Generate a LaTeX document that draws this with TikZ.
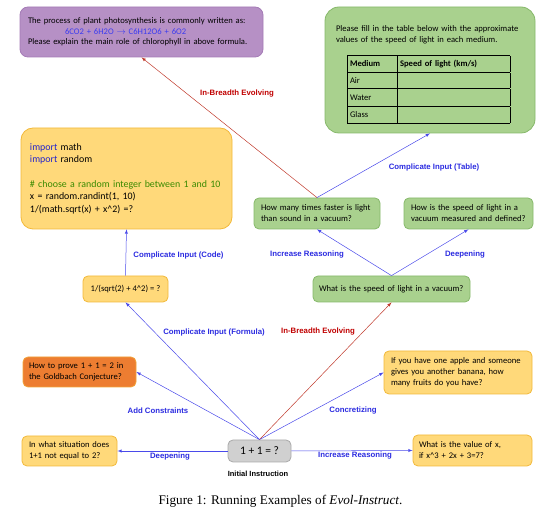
\documentclass[tikz,border=0pt]{standalone}
\usepackage{fontspec}
\setmainfont{Liberation Serif}
\newfontfamily\boxfont{Carlito}
\newfontfamily\lblfont{Liberation Sans}
\usepackage{xcolor}
\usetikzlibrary{arrows}
\tikzset{>=latex}
\definecolor{ybody}{HTML}{FFD97A}
\definecolor{yrim}{HTML}{F2B93A}
\definecolor{gbody}{HTML}{A9D18E}
\definecolor{grim}{HTML}{86B86A}
\definecolor{pbody}{HTML}{B690C5}
\definecolor{prim}{HTML}{A47BB6}
\definecolor{obody}{HTML}{ED7D31}
\definecolor{orim}{HTML}{F2A33A}
\definecolor{kbody}{HTML}{D0D0D0}
\definecolor{krim}{HTML}{A9A9A9}
\definecolor{lblblue}{HTML}{2B2BE0}
\definecolor{lblred}{HTML}{C00000}
\definecolor{lineblue}{HTML}{4A4AEA}
\definecolor{linered}{HTML}{C0392B}
\definecolor{kwblue}{HTML}{2424CC}
\definecolor{cmtgreen}{HTML}{3A8A00}
\definecolor{eqblue}{HTML}{3B3BF0}

\begin{document}
\begin{tikzpicture}[x=1pt, y=-1pt]
    % boxes sit at the pixel centres of the figure, y grows downwards
    \tikzstyle{box}=[rounded corners=5pt, line width=0.8pt, align=left, inner xsep=7pt, inner ysep=2pt, font=\boxfont\fontsize{8.6}{11}\selectfont]
    \tikzstyle{ybox}=[box, fill=ybody, draw=yrim]
    \tikzstyle{gbox}=[box, fill=gbody, draw=grim]
    \tikzstyle{lbl}=[font=\lblfont\bfseries\fontsize{7.8}{9}\selectfont, text=lblblue]
    \tikzstyle{every edge}=[draw=lineblue, ->, line width=0.5pt]
    \useasboundingbox (0,0) rectangle (558,510);

    \node[box, fill=pbody, draw=prim, rounded corners=8pt, inner xsep=8pt, text width=227pt, minimum height=50pt, font=\boxfont\fontsize{8.6}{10.5}\selectfont] (photo) at (141.5,32) {The process of plant photosynthesis is commonly written as:\\ \hspace*{37pt}\textcolor{eqblue}{6CO2 + 6H2O \ensuremath{\rightarrow} C6H12O6 + 6O2}\\ Please explain the main role of chlorophyll in above formula.};
    \node[gbox, rounded corners=14pt, inner xsep=11pt, text width=188pt, minimum height=126pt] (light) at (430,70) {\rule{0pt}{14.5pt}Please fill in the table below with the approximate\\ values of the speed of light in each medium.\\[11pt]
        \hspace*{11pt}{\setlength{\arrayrulewidth}{0.8pt}\setlength{\tabcolsep}{3pt}\begin{tabular}{|p{44pt}|p{107pt}|}
            \hline \rule[-5pt]{0pt}{15.5pt}\textbf{Medium} & \textbf{Speed of light (km/s)}\\
            \hline \rule[-5pt]{0pt}{15.5pt}Air & \\
            \hline \rule[-6pt]{0pt}{17.5pt}Water & \\
            \hline \rule[-5pt]{0pt}{15.5pt}Glass & \\
            \hline
        \end{tabular}}};
    \node[ybox, rounded corners=12pt, inner xsep=9pt, text width=193pt, minimum height=101pt, font=\boxfont\fontsize{9.9}{12.4}\selectfont] (code) at (126.5,178.5) {\textcolor{kwblue}{import} math\\ \textcolor{kwblue}{import} random\\[12.4pt] \textcolor{cmtgreen}{\# choose a random integer between 1 and 10}\\ x = random.randint(1, 10)\\ 1/(math.sqrt(x) + x\textasciicircum 2) =?};
    \node[ybox, align=center, minimum width=85pt, minimum height=26pt] (formula) at (125.5,289) {1/(sqrt(2) + 4\textasciicircum 2) = ?};
    \node[gbox, text width=112pt, minimum height=31pt] (faster) at (317,213.5) {How many times faster is light\\ than sound in a vacuum?};
    \node[gbox, text width=115pt, minimum height=31pt] (measured) at (468.5,213.5) {How is the speed of light in a\\ vacuum measured and defined?};
    \node[gbox, inner xsep=6pt, text width=145pt, minimum height=26pt] (vacuum) at (391.5,289) {What is the speed of light in a vacuum?};
    \node[box, fill=obody, draw=orim, inner xsep=6pt, text width=101pt, minimum height=30pt] (goldbach) at (79.5,372) {How to prove 1 + 1 = 2 in\\ the Goldbach Conjecture?};
    \node[ybox, text width=81pt, minimum height=30pt] (situation) at (69.5,451) {In what situation does\\ 1+1 not equal to 2?};
    \node[box, fill=kbody, draw=krim, align=center, minimum width=63pt, minimum height=22pt, font=\boxfont\fontsize{11.5}{13}\selectfont] (init) at (259.5,451) {1 + 1 = ?};
    \node[ybox, text width=134pt, minimum height=43pt] (apple) at (458,372.5) {If you have one apple and someone\\ gives you another banana, how\\ many fruits do you have?};
    \node[ybox, inner xsep=6pt, text width=107pt, minimum height=31pt] (xvalue) at (472.5,450.5) {What is the value of x,\\ if x\textasciicircum 3 + 2x + 3=7?};

    \node[lbl, text=black, font=\lblfont\bfseries\fontsize{7.5}{9}\selectfont] (initlbl) at (258,474) {Initial Instruction};

    \draw (init.west) edge (situation.east);
    \draw (init.east) edge (xvalue.west);
    \draw (init.north) edge (goldbach.east);
    \draw (init.north) edge (formula.south);
    \draw (init.north) edge[draw=linered] (vacuum.south);
    \draw (init.north) edge (apple.west);
    \draw (formula.north) edge (code.south);
    \draw (vacuum.north) edge (faster.south);
    \draw (vacuum.north) edge (measured.south);
    \draw (faster.north) edge[draw=linered] (photo.south);
    \draw (faster.north) edge (light.south);

    \node[lbl] (deep1) at (170,457) {Deepening};
    \node[lbl] (reason1) at (355,456) {Increase Reasoning};
    \node[lbl] (constr) at (158,411) {Add Constraints};
    \node[lbl] (concr) at (353,411) {Concretizing};
    \node[lbl] (cformula) at (214,332) {Complicate Input (Formula)};
    \node[lbl, text=lblred] (breadth1) at (318,332) {In-Breadth Evolving};
    \node[lbl] (ccode) at (178.5,255) {Complicate Input (Code)};
    \node[lbl] (reason2) at (307,255) {Increase Reasoning};
    \node[lbl] (deep2) at (465,255) {Deepening};
    \node[lbl] (ctable) at (434,167) {Complicate Input (Table)};
    \node[lbl, text=lblred] (breadth2) at (237,94) {In-Breadth Evolving};

    \node[font=\fontsize{13.2}{15}\selectfont] (caption) at (280.5,501) {Figure 1: Running Examples of \textit{Evol-Instruct}.};
\end{tikzpicture}
\end{document}
